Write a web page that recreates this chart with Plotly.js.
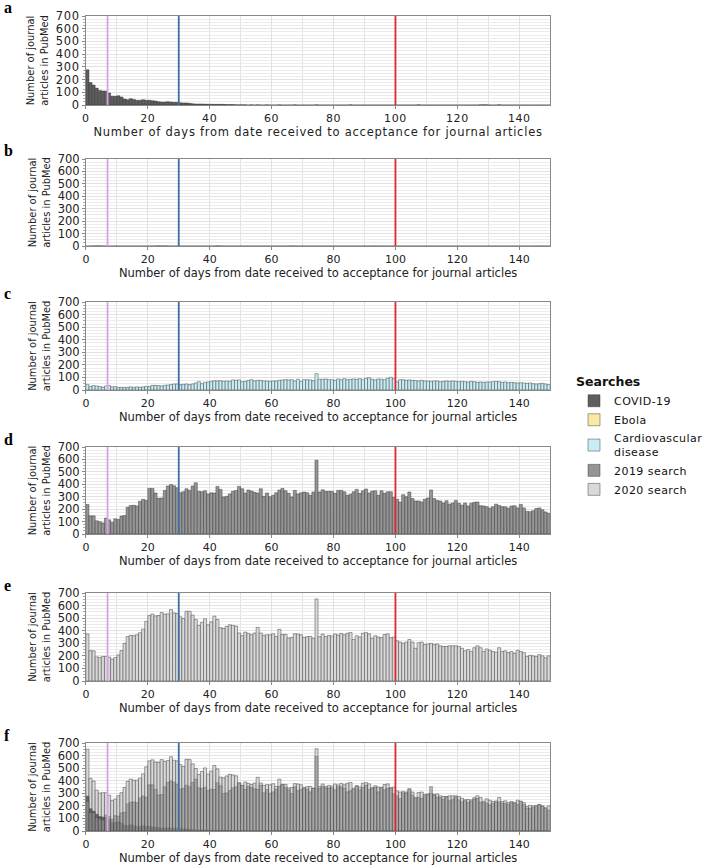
<!DOCTYPE html>
<html>
<head>
<meta charset="utf-8">
<script src="https://cdn.plot.ly/plotly-3.0.1.min.js"></script>
<style>html,body{margin:0;padding:0;background:#fff;}#chart{width:708px;height:865px;}
.xtitle{letter-spacing:0.75px;}
.xtick text,.ytick text{letter-spacing:0.6px;}
.legendtext{letter-spacing:0.45px;}</style>
</head>
<body>
<div id="chart"></div>
<script>
// ---- data: number of journal articles per day (0..149) ----
const days = Array.from({length: 150}, (_, i) => i);

const covid19 = [277,177,157,133,115,110,110,94,68,68, 73,63,47,42,50,44,37,37,42,37,
  37,34,31,26,23,23,26,23,21,21, 18,16,16,13,10,8,8,8,7,6,
  6,5,5,5,5,4,4,4,2,1, 1,1,0,1,0,1,0,0,1,0,
  0,0,1,0,0,0,0,1,0,0, 0,0,0,0,1,0,0,0,0,0,
  0,0,0,0,0,1,0,0,0,0, 0,0,0,0,0,0,0,0,0,0,
  0,0,0,0,0,0,0,2,0,0, 0,0,0,0,0,0,0,0,0,0,
  0,0,0,0,0,0,0,1,2,1, 0,0,0,2,0,0,0,0,0,0,
  0,0,0,0,0,0,0,0,0,0];

const ebola = [0,0,1,2,2,1,0,0,0,0, 0,0,0,0,0,0,0,0,0,0,
  0,0,1,2,1,2,1,0,0,0, 0,0,0,0,0,0,0,0,0,0,
  0,0,2,1,0,0,0,0,0,0, 0,0,0,0,0,0,0,0,0,0,
  0,0,0,0,0,0,1,1,0,0, 0,0,0,0,0,0,0,0,0,0,
  0,0,0,0,0,0,0,0,0,0, 0,0,0,1,0,0,0,0,0,0,
  0,0,0,0,0,0,0,0,0,0, 0,0,0,0,0,0,0,0,0,0,
  0,0,0,0,0,0,0,0,0,0, 0,0,0,0,0,0,0,0,0,0,
  0,0,0,0,0,1,0,0,0,0];

const cardio = [45,29,35,32,27,21,32,35,24,27, 19,19,19,19,24,19,24,21,24,29,
  27,37,37,35,32,37,40,43,48,48, 43,45,48,43,48,56,66,50,61,64,
  69,74,72,74,69,72,69,80,77,80, 66,69,77,82,72,77,77,72,72,69,
  72,72,77,80,82,80,82,72,85,69, 82,82,80,74,130,85,85,88,82,82,
  77,88,82,90,82,85,88,85,90,82, 93,98,85,80,88,85,82,93,101,90,
  64,82,82,77,80,77,74,72,77,72, 72,69,72,72,66,69,72,69,72,69,
  66,69,66,64,69,66,61,64,61,64, 64,66,69,66,61,64,58,61,58,56,
  58,56,53,56,50,48,50,53,48,43];

const search2019 = [237,146,146,106,98,88,128,114,93,122, 117,144,149,215,229,231,226,263,279,269,
  367,367,330,287,290,351,386,399,388,372, 332,340,364,351,386,412,343,340,348,322,
  332,330,383,359,298,303,322,343,351,383, 364,330,354,346,335,330,364,303,330,300,
  311,332,354,367,348,327,298,351,322,332, 338,332,311,338,593,338,356,343,343,343,
  327,351,351,340,311,320,340,359,327,348, 362,330,345,348,311,348,327,340,340,295,
  280,258,316,300,338,285,266,266,258,280, 290,354,285,270,265,250,268,240,250,270,
  247,232,250,226,248,255,258,228,226,220, 208,220,240,230,220,219,208,225,228,210,
  238,210,182,180,188,205,210,195,178,165];

const search2020 = [374,242,240,192,187,195,195,190,174,187, 208,242,300,353,363,361,368,384,413,474,
  521,532,518,521,545,532,534,568,542,537, 511,497,555,555,524,489,442,466,495,447,
  471,516,489,424,418,434,447,442,437,382, 361,389,379,368,382,426,382,363,368,368,
  376,355,411,371,371,342,347,376,374,368, 347,353,355,340,653,353,374,353,363,358,
  374,366,379,368,380,385,330,360,350,380, 385,375,340,360,350,345,370,375,345,350,
  320,310,300,310,330,310,260,305,310,290, 295,300,290,295,280,275,275,280,280,280,
  275,260,240,250,235,265,280,265,235,255, 245,235,230,265,235,240,225,235,220,245,
  235,225,195,205,200,195,210,200,185,200];

const seriesNames = ['COVID-19', 'Ebola', 'Cardiovascular<br>disease', '2019 search', '2020 search'];
const seriesColors = ['#5e5e5e', '#f9e9a5', '#c8eef5', '#959595', '#d9d9d9'];
const vlineDays = [7, 30, 100];
const vlineColors = ['#d9a3e3', '#3b6f9c', '#e3262b'];
const panelLetters = ['a', 'b', 'c', 'd', 'e', 'f'];
const yTicks = [0, 100, 200, 300, 400, 500, 600, 700];
const xTicks = [0, 20, 40, 60, 80, 100, 120, 140];

// panel pixel boxes (top, bottom) in the 865px tall page
const H = 865, W = 708;
const panelTop = [16, 159, 302, 447, 593, 743];
const panelBot = [105, 246, 390, 534, 681, 831];
const plotLeft = 86, plotRight = 551;

const xc = days.map(d => d + 0.5);
const traces = [];
function bar(y, idx, axisN, showLeg, opacity) {
  return {
    type: 'bar', x: xc, y: y, width: 1,
    xaxis: 'x' + (axisN === 1 ? '' : axisN), yaxis: 'y' + (axisN === 1 ? '' : axisN),
    name: seriesNames[idx], showlegend: showLeg,
    marker: {color: seriesColors[idx], opacity: opacity, line: {color: '#333', width: 0.45}},
    hoverinfo: 'x+y'
  };
}
const single = [covid19, ebola, cardio, search2019, search2020];
single.forEach((s, i) => traces.push(bar(s, i, i + 1, true, 1)));
// panel f: all searches overlaid
const combined2020 = search2020.map((v, i) => v + covid19[i]);
traces.push(bar(combined2020, 4, 6, false, 1));
traces.push(bar(covid19, 0, 6, false, 0.9));
traces.push(bar(search2019, 3, 6, false, 0.7));

const font = 'DejaVu Sans, Liberation Sans, Arial, sans-serif';
const layout = {
  width: W, height: H, margin: {l: 0, r: 0, t: 0, b: 0},
  paper_bgcolor: '#fff', plot_bgcolor: '#fff',
  barmode: 'overlay', bargap: 0,
  font: {family: font, size: 11, color: '#222'},
  showlegend: true,
  legend: {
    x: 575 / W, y: 1 - 370 / H, xanchor: 'left', yanchor: 'top',
    title: {text: '<b>Searches</b>', font: {size: 12.5, color: '#111'}},
    font: {size: 11, color: '#111'}, tracegroupgap: 0, bgcolor: 'rgba(0,0,0,0)',
    itemwidth: 30, traceorder: 'normal'
  },
  shapes: [], annotations: []
};

for (let p = 0; p < 6; p++) {
  const n = p + 1, s = n === 1 ? '' : n;
  layout['xaxis' + s] = {
    domain: [plotLeft / W, plotRight / W], anchor: 'y' + s, range: [0, 150],
    tickvals: xTicks, ticks: 'outside', ticklen: 3, tickcolor: '#888',
    showline: true, mirror: true, linecolor: '#888', linewidth: 1,
    showgrid: true, gridcolor: '#e2e2e2', gridwidth: 1,
    minor: {dtick: 10, showgrid: true, gridcolor: '#e2e2e2'},
    tickfont: {size: 11, color: '#222'}, zeroline: false, fixedrange: true,
    title: {text: 'Number of days from date received to acceptance for journal articles',
            font: {size: 11.5, color: '#222'}, standoff: 2}
  };
  layout['yaxis' + s] = {
    domain: [1 - panelBot[p] / H, 1 - panelTop[p] / H], anchor: 'x' + s, range: [0, 700],
    tickvals: yTicks, ticks: 'outside', ticklen: 3, tickcolor: '#888',
    showline: true, mirror: true, linecolor: '#888', linewidth: 1,
    showgrid: true, gridcolor: '#e2e2e2', gridwidth: 1,
    minor: {dtick: 25, showgrid: true, gridcolor: '#ececec', ticks: 'outside', ticklen: 2, tickcolor: '#aaa'},
    tickfont: {size: 11.5, color: '#222'}, zeroline: false, fixedrange: true,
    title: {text: 'Number of journal<br>articles in PubMed',
            font: {size: 11, family: 'Liberation Sans Narrow, DejaVu Sans Condensed, Liberation Sans, sans-serif', color: '#222'},
            standoff: 4}
  };
  vlineDays.forEach((d, k) => {
    layout.shapes.push({type: 'line', xref: 'x' + s, yref: 'y' + s + ' domain',
      x0: d, x1: d, y0: 0, y1: 1, line: {color: vlineColors[k], width: 1.8}, layer: 'above'});
  });
  layout.annotations.push({text: '<b>' + panelLetters[p] + '</b>', xref: 'paper', yref: 'paper',
    x: 2 / W, y: 1 - (panelTop[p] - 8) / H, xanchor: 'left', yanchor: 'middle', showarrow: false,
    font: {family: 'Liberation Serif, Times New Roman, serif', size: 16, color: '#000'}});
}

Plotly.newPlot('chart', traces, layout, {staticPlot: true});
</script>
</body>
</html>
